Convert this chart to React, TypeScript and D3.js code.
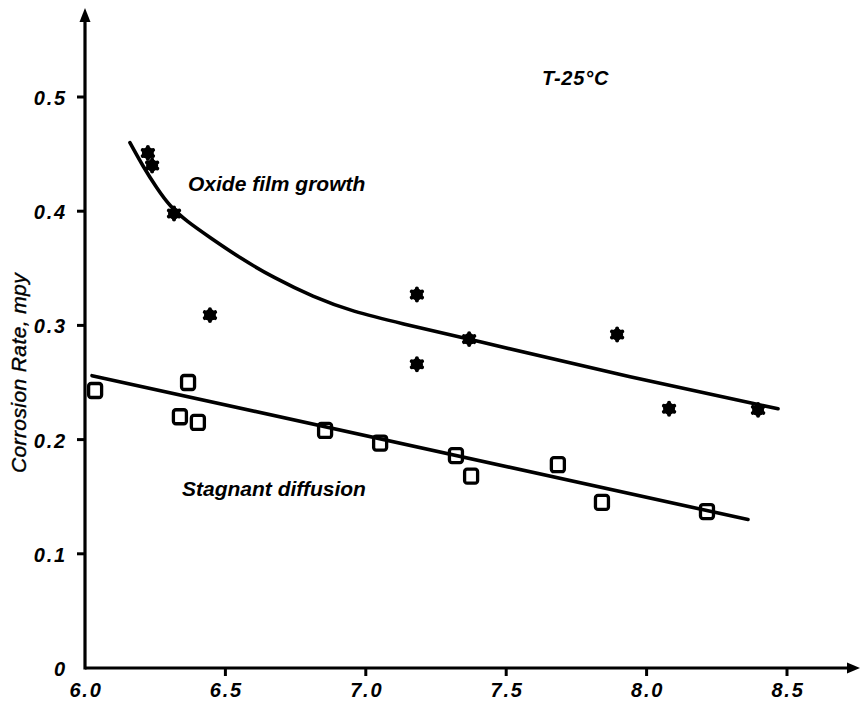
import { useEffect, useRef } from "react";
import * as d3 from "d3";

// axis ticks
const xTicks = [6.0, 6.5, 7.0, 7.5, 8.0, 8.5];
const xTickLabels = ["6.0", "6.5", "7.0", "7.5", "8.0", "8.5"];
const yTicks = [0, 0.1, 0.2, 0.3, 0.4, 0.5];
const yTickLabels = ["0", "0.1", "0.2", "0.3", "0.4", "0.5"];

// oxide film growth (stars)
const oxidePh = [6.224, 6.239, 6.317, 6.445, 7.182, 7.182, 7.368, 7.895, 8.08, 8.397];
const oxideRate = [0.451, 0.44, 0.398, 0.309, 0.327, 0.266, 0.288, 0.292, 0.227, 0.226];

// fitted curve through the oxide points
const oxideCurvePh = [6.16, 6.207, 6.256, 6.303, 6.363, 6.445, 6.552, 6.67, 6.812, 6.954, 7.122, 7.368, 7.895, 8.468];
const oxideCurveRate = [0.46, 0.439, 0.42, 0.404, 0.391, 0.377, 0.359, 0.342, 0.325, 0.312, 0.302, 0.288, 0.257, 0.227];

// stagnant diffusion (squares)
const stagnantPh = [6.036, 6.367, 6.338, 6.402, 6.855, 7.051, 7.321, 7.375, 7.684, 7.841, 8.215];
const stagnantRate = [0.243, 0.25, 0.22, 0.215, 0.208, 0.197, 0.186, 0.168, 0.178, 0.145, 0.137];

// straight fit line
const stagnantLinePh = [6.025, 8.361];
const stagnantLineRate = [0.256, 0.13];

const W = 862;
const H = 705;
const FONT = "'Liberation Sans', Arial, sans-serif";

export default function App() {
    const svgRef = useRef<SVGSVGElement>(null);

    useEffect(() => {
        const svg = d3.select(svgRef.current);
        svg.selectAll("*").remove();

        const x = d3.scaleLinear([6.0, 8.5], [85, 787]);
        const y = d3.scaleLinear([0, 0.5], [668, 97]);

        const x0 = x(6.0);
        const y0 = y(0);
        const xEnd = 860;
        const yTop = 8;

        // axes
        const axes = svg.append("g").attr("stroke", "#000").attr("fill", "#000");
        axes.append("line")
            .attr("x1", x0).attr("x2", xEnd - 10)
            .attr("y1", y0).attr("y2", y0)
            .attr("stroke-width", 3.2);
        axes.append("line")
            .attr("x1", x0).attr("x2", x0)
            .attr("y1", y0 + 1.5).attr("y2", yTop + 10)
            .attr("stroke-width", 3.2);

        // arrow heads
        axes.append("path")
            .attr("stroke", "none")
            .attr("d", `M${xEnd},${y0} L${xEnd - 13},${y0 - 5.5} L${xEnd - 13},${y0 + 5.5} Z`);
        axes.append("path")
            .attr("stroke", "none")
            .attr("d", `M${x0},${yTop} L${x0 - 5.5},${yTop + 14} L${x0 + 5.5},${yTop + 14} Z`);

        // x ticks
        axes.selectAll(".xt")
            .data(xTicks.slice(1))
            .join("line")
            .attr("x1", (d) => x(d)).attr("x2", (d) => x(d))
            .attr("y1", y0).attr("y2", y0 + 8)
            .attr("stroke-width", 3);

        // y ticks
        axes.selectAll(".yt")
            .data(yTicks.slice(1))
            .join("line")
            .attr("x1", x0 - 8).attr("x2", x0)
            .attr("y1", (d) => y(d)).attr("y2", (d) => y(d))
            .attr("stroke-width", 3);

        const labels = svg.append("g")
            .attr("font-family", FONT)
            .attr("font-style", "italic")
            .attr("font-weight", "bold")
            .attr("font-size", 20)
            .attr("fill", "#000");

        labels.selectAll(".xl")
            .data(xTicks)
            .join("text")
            .attr("x", (d) => x(d) + 1)
            .attr("y", 697)
            .attr("text-anchor", "middle")
            .attr("letter-spacing", 1.8)
            .text((d, i) => xTickLabels[i]);

        labels.selectAll(".yl")
            .data(yTicks)
            .join("text")
            .attr("x", 67)
            .attr("y", (d) => y(d) + 8)
            .attr("text-anchor", "end")
            .attr("letter-spacing", 1.8)
            .text((d, i) => yTickLabels[i]);

        // y axis title
        svg.append("text")
            .attr("transform", `translate(26,373) rotate(-90)`)
            .attr("text-anchor", "middle")
            .attr("font-family", FONT)
            .attr("font-style", "italic")
            .attr("font-size", 21)
            .attr("letter-spacing", 0.4)
            .attr("stroke", "#000")
            .attr("stroke-width", 0.4)
            .text("Corrosion Rate, mpy");

        // fit lines
        const oxideIdx = d3.range(oxideCurvePh.length);
        svg.append("path")
            .attr("fill", "none")
            .attr("stroke", "#000")
            .attr("stroke-width", 3.6)
            .attr("stroke-linecap", "round")
            .attr("d", d3.line<number>()
                .x((i) => x(oxideCurvePh[i]))
                .y((i) => y(oxideCurveRate[i]))
                .curve(d3.curveBasis)(oxideIdx));

        const stagIdx = d3.range(stagnantLinePh.length);
        svg.append("path")
            .attr("fill", "none")
            .attr("stroke", "#000")
            .attr("stroke-width", 3.6)
            .attr("stroke-linecap", "round")
            .attr("d", d3.line<number>()
                .x((i) => x(stagnantLinePh[i]))
                .y((i) => y(stagnantLineRate[i]))(stagIdx));

        // star markers
        const stars = svg.append("g")
            .selectAll("g")
            .data(d3.range(oxidePh.length))
            .join("g")
            .attr("transform", (i) => `translate(${x(oxidePh[i])},${y(oxideRate[i])})`);
        stars.append("circle").attr("r", 6).attr("fill", "#000");
        stars.append("path")
            .attr("d", d3.symbol(d3.symbolAsterisk, 100)())
            .attr("fill", "none")
            .attr("stroke", "#000")
            .attr("stroke-width", 4)
            .attr("stroke-linecap", "round");

        // square markers
        svg.append("g")
            .selectAll("rect")
            .data(d3.range(stagnantPh.length))
            .join("rect")
            .attr("x", (i) => x(stagnantPh[i]) - 6.5)
            .attr("y", (i) => y(stagnantRate[i]) - 7)
            .attr("width", 13)
            .attr("height", 14)
            .attr("rx", 2.5)
            .attr("fill", "none")
            .attr("stroke", "#000")
            .attr("stroke-width", 3.3);

        // annotations
        const notes = svg.append("g")
            .attr("font-family", FONT)
            .attr("font-style", "italic")
            .attr("font-weight", "bold")
            .attr("font-size", 21)
            .attr("fill", "#000");
        notes.append("text").attr("x", 188).attr("y", 191).text("Oxide film growth");
        notes.append("text").attr("x", 182).attr("y", 496).text("Stagnant diffusion");
        notes.append("text").attr("x", 542).attr("y", 85).attr("font-size", 20)
            .attr("letter-spacing", 0.8).text("T-25°C");
    }, []);

    return (
        <svg
            ref={svgRef}
            width={W}
            height={H}
            viewBox={`0 0 ${W} ${H}`}
            style={{ position: "absolute", left: 0, top: 0, background: "#fff" }}
        ></svg>
    );
}
